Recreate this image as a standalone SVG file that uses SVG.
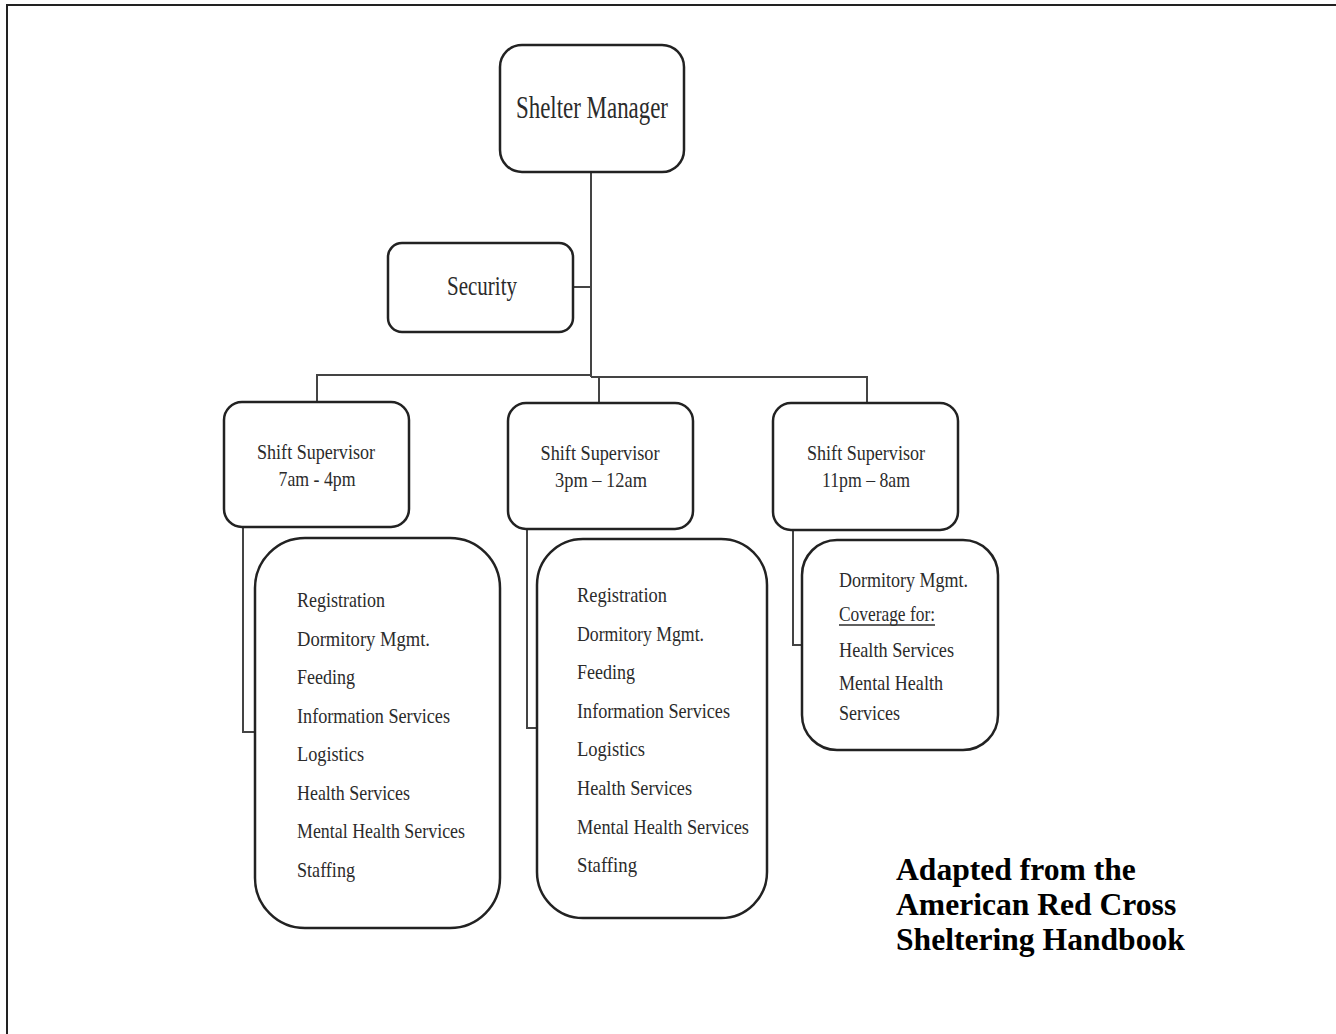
<svg xmlns="http://www.w3.org/2000/svg" width="1336" height="1034" viewBox="0 0 1336 1034">
<style>
.box{fill:#fff;stroke:#222;stroke-width:2.5}
.conn{fill:none;stroke:#444;stroke-width:2}
.t{font-family:"Liberation Serif","Times New Roman",serif;fill:#2b2b2b}
.c{text-anchor:middle}
.note{font-family:"Liberation Serif","Times New Roman",serif;font-weight:bold;font-size:31.6px;fill:#000}
</style>
<rect x="0" y="0" width="1336" height="1034" fill="#fff"/>
<path d="M7 1034 V5 H1336" fill="none" stroke="#222" stroke-width="2"/>
<g id="connectors">
<line class="conn" x1="591" y1="172" x2="591" y2="377"/>
<line class="conn" x1="573" y1="287" x2="591" y2="287"/>
<polyline class="conn" points="317,402 317,375 591,375"/>
<polyline class="conn" points="591,377 867,377 867,403"/>
<line class="conn" x1="599" y1="377" x2="599" y2="403"/>
<polyline class="conn" points="243,527 243,732 256,732"/>
<polyline class="conn" points="527,529 527,728 538,728"/>
<polyline class="conn" points="793,530 793,645 803,645"/>
</g>
<g id="shelter-manager">
<rect class="box" x="500" y="45" width="184" height="127" rx="22"/>
<text class="t c" x="592" y="118" font-size="32" textLength="152" lengthAdjust="spacingAndGlyphs">Shelter Manager</text>
</g>
<g id="security">
<rect class="box" x="388" y="243" width="185" height="89" rx="14"/>
<text class="t c" x="482" y="295" font-size="27" textLength="70" lengthAdjust="spacingAndGlyphs">Security</text>
</g>
<g id="supervisor-1">
<rect class="box" x="224" y="402" width="185" height="125" rx="18"/>
<text class="t c" x="316" y="459" font-size="22" textLength="118" lengthAdjust="spacingAndGlyphs">Shift Supervisor</text>
<text class="t c" x="317" y="486" font-size="22" textLength="77" lengthAdjust="spacingAndGlyphs">7am - 4pm</text>
</g>
<g id="supervisor-2">
<rect class="box" x="508" y="403" width="185" height="126" rx="18"/>
<text class="t c" x="600" y="460" font-size="22" textLength="119" lengthAdjust="spacingAndGlyphs">Shift Supervisor</text>
<text class="t c" x="601" y="487" font-size="22" textLength="92" lengthAdjust="spacingAndGlyphs">3pm – 12am</text>
</g>
<g id="supervisor-3">
<rect class="box" x="773" y="403" width="185" height="127" rx="18"/>
<text class="t c" x="866" y="460" font-size="22" textLength="118" lengthAdjust="spacingAndGlyphs">Shift Supervisor</text>
<text class="t c" x="866" y="487" font-size="22" textLength="88" lengthAdjust="spacingAndGlyphs">11pm – 8am</text>
</g>
<g id="tasks-1">
<rect class="box" x="255" y="538" width="245" height="390" rx="50"/>
<text class="t" x="297" y="607" font-size="22" textLength="88" lengthAdjust="spacingAndGlyphs">Registration</text>
<text class="t" x="297" y="645.5" font-size="22" textLength="133" lengthAdjust="spacingAndGlyphs">Dormitory  Mgmt.</text>
<text class="t" x="297" y="684" font-size="22" textLength="58" lengthAdjust="spacingAndGlyphs">Feeding</text>
<text class="t" x="297" y="722.5" font-size="22" textLength="153" lengthAdjust="spacingAndGlyphs">Information Services</text>
<text class="t" x="297" y="761" font-size="22" textLength="67" lengthAdjust="spacingAndGlyphs">Logistics</text>
<text class="t" x="297" y="799.5" font-size="22" textLength="113" lengthAdjust="spacingAndGlyphs">Health Services</text>
<text class="t" x="297" y="838" font-size="22" textLength="168" lengthAdjust="spacingAndGlyphs">Mental Health Services</text>
<text class="t" x="297" y="876.5" font-size="22" textLength="58" lengthAdjust="spacingAndGlyphs">Staffing</text>
</g>
<g id="tasks-2">
<rect class="box" x="537" y="539" width="230" height="379" rx="46"/>
<text class="t" x="577" y="602" font-size="22" textLength="90" lengthAdjust="spacingAndGlyphs">Registration</text>
<text class="t" x="577" y="640.6" font-size="22" textLength="127" lengthAdjust="spacingAndGlyphs">Dormitory Mgmt.</text>
<text class="t" x="577" y="679.2" font-size="22" textLength="58" lengthAdjust="spacingAndGlyphs">Feeding</text>
<text class="t" x="577" y="717.8" font-size="22" textLength="153" lengthAdjust="spacingAndGlyphs">Information Services</text>
<text class="t" x="577" y="756.4" font-size="22" textLength="68" lengthAdjust="spacingAndGlyphs">Logistics</text>
<text class="t" x="577" y="795" font-size="22" textLength="115" lengthAdjust="spacingAndGlyphs">Health Services</text>
<text class="t" x="577" y="833.6" font-size="22" textLength="172" lengthAdjust="spacingAndGlyphs">Mental Health Services</text>
<text class="t" x="577" y="872.2" font-size="22" textLength="60" lengthAdjust="spacingAndGlyphs">Staffing</text>
</g>
<g id="tasks-3">
<rect class="box" x="802" y="540" width="196" height="210" rx="35"/>
<text class="t" x="839" y="587" font-size="22" textLength="129" lengthAdjust="spacingAndGlyphs">Dormitory Mgmt.</text>
<text class="t" x="839" y="621" font-size="22" textLength="96" lengthAdjust="spacingAndGlyphs">Coverage for:</text>
<line x1="839" y1="625" x2="935" y2="625" stroke="#2b2b2b" stroke-width="1.5"/>
<text class="t" x="839" y="657" font-size="22" textLength="115" lengthAdjust="spacingAndGlyphs">Health Services</text>
<text class="t" x="839" y="690" font-size="22" textLength="104" lengthAdjust="spacingAndGlyphs">Mental Health</text>
<text class="t" x="839" y="720" font-size="22" textLength="61" lengthAdjust="spacingAndGlyphs">Services</text>
</g>
<g id="credit">
<text class="note" x="896" y="880">Adapted from the</text>
<text class="note" x="896" y="915">American Red Cross</text>
<text class="note" x="896" y="950">Sheltering Handbook</text>
</g>
</svg>
